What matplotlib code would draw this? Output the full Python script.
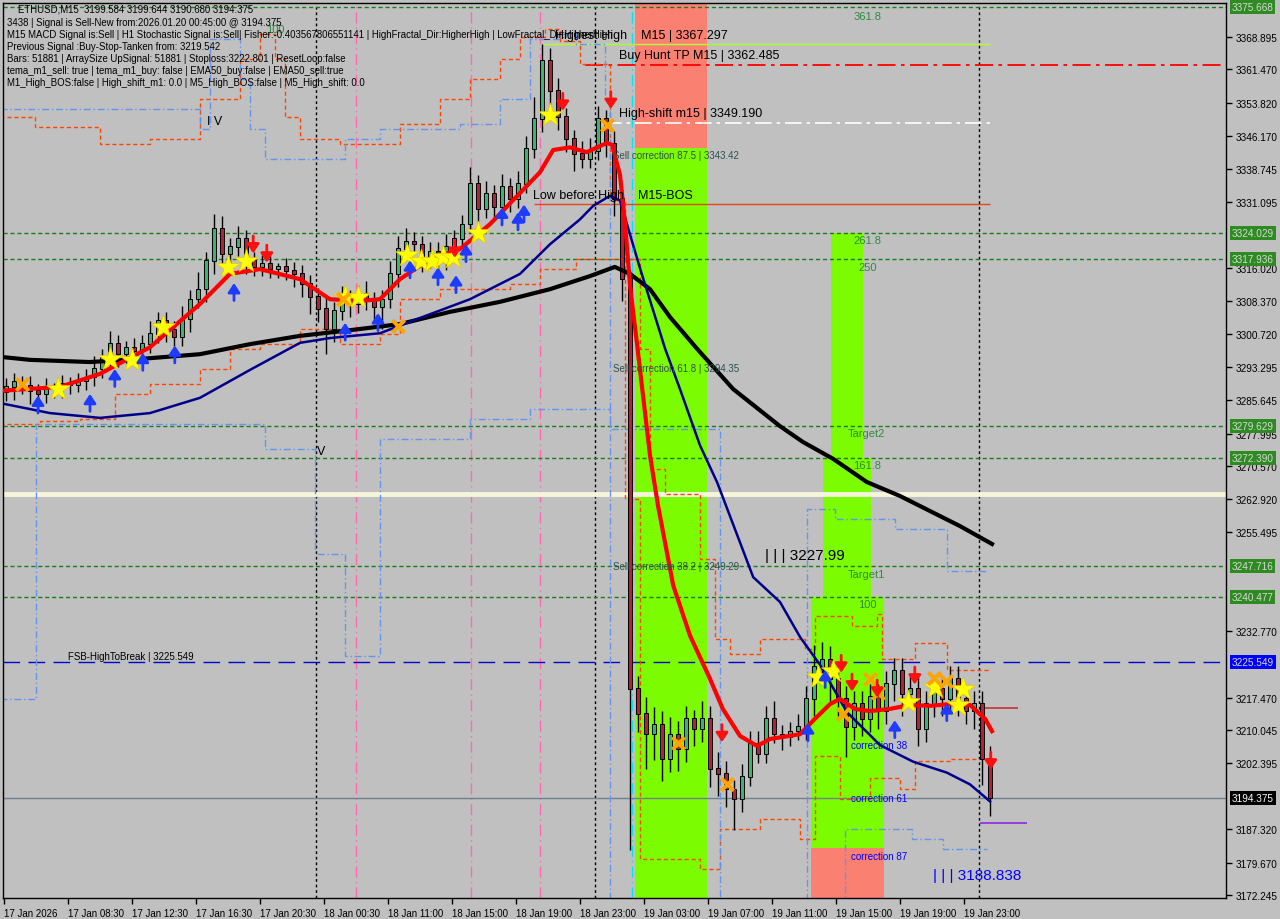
import numpy as np
import matplotlib.pyplot as plt
import matplotlib.transforms as mtransforms

plt.rcParams['font.family'] = ['Liberation Sans', 'DejaVu Sans']

# ---- candles (one value per drawn bar) ----
first_open = 3287.5
close = [3288.7, 3289.8, 3289.1, 3287.8, 3287.1, 3288.7, 3288.2, 3289.4, 3289.1, 3290.0,
         3290.9, 3292.8, 3295.5, 3298.5, 3296.2, 3297.8, 3296.9, 3298.5, 3300.8, 3303.8,
         3301.9, 3300.1, 3304.3, 3308.8, 3311.1, 3317.6, 3324.9, 3319.2, 3320.8, 3322.6,
         3317.6, 3316.2, 3316.9, 3315.7, 3316.2, 3315.3, 3314.6, 3312.3, 3309.3, 3306.6,
         3301.9, 3306.1, 3308.8, 3307.7, 3310.0, 3308.4, 3307.0, 3308.8, 3314.6, 3320.3,
         3322.1, 3321.4, 3318.0, 3319.8, 3317.6, 3320.8, 3322.6, 3326.0, 3335.2, 3329.5,
         3332.9, 3330.0, 3334.5, 3331.8, 3335.2, 3343.2, 3350.1, 3363.4, 3356.5, 3350.6,
         3345.5, 3342.1, 3340.9, 3342.8, 3350.1, 3344.4, 3331.8, 3313.4, 3219.5, 3213.7,
         3209.1, 3211.4, 3203.4, 3209.1, 3205.7, 3212.6, 3210.3, 3212.6, 3201.1, 3200.0,
         3196.5, 3194.2, 3199.3, 3206.9, 3204.6, 3212.6, 3209.1, 3208.5, 3209.8, 3210.8,
         3217.2, 3224.5, 3226.3, 3221.8, 3217.2, 3210.8, 3216.0, 3212.6, 3217.6, 3214.4,
         3220.6, 3223.6, 3218.3, 3219.5, 3210.3, 3216.0, 3219.5, 3217.2, 3221.8, 3217.2,
         3214.4, 3216.0, 3203.4, 3194.375]
wick_up = [2, 2, 1.5, 2, 1.5, 2, 1, 2, 1.5, 2, 2, 3, 2, 3, 2, 1.5, 2, 2, 3, 2,
           2, 2, 3, 2, 4, 2, 3.5, 3, 2, 3, 2, 2, 2, 2, 1, 2, 2, 2, 2, 2,
           3, 2, 3, 2, 2, 3, 2, 2, 3, 3, 3, 2, 2, 2, 2, 3, 2, 2, 4, 2,
           3, 2, 3, 2, 3, 3, 5, 4, 3, 3, 2, 2, 3, 3, 3, 2, 3, 2, 2, 3,
           4, 4, 3, 4, 3, 3, 2, 4, 3, 4, 3, 2, 3, 3, 3, 3, 4, 2, 2, 3,
           3, 5, 4, 3, 3, 3, 3, 3, 3, 3, 3, 3, 3, 3, 3, 3, 3, 3, 3, 3,
           2, 3, 3, 3]
wick_dn = [2, 3, 2, 3, 4, 2, 2, 2, 2, 1.5, 2, 2, 2, 2, 3, 2, 2, 2, 2, 2,
           3, 2, 2, 3, 2, 3, 3, 2, 3, 2, 3, 2, 2, 2, 2, 2, 3, 3, 4, 3,
           5.7, 3, 2, 3, 2, 2, 3, 5, 2, 3, 2, 2, 3, 2, 3, 2, 2, 2, 2, 3,
           2, 3, 2, 3, 2, 2, 2, 3, 3, 3, 3, 4, 2, 2, 2, 3, 4, 5, 37, 4,
           8, 6, 5, 3, 5, 3, 4, 3, 4, 5, 4, 7, 3, 2, 2, 2, 2, 3, 2, 2,
           3, 4, 3, 5, 4, 7, 3, 4, 3, 4, 3, 4, 5, 3, 4, 3, 3, 4, 3, 4,
           3, 4, 6, 4]

# ---- moving averages (vertices: bar, price) ----
red_x = [-0.75, 6.75, 11.75, 18, 24.25, 28, 31.75, 36.75, 40.5, 44.25, 46.75, 49.25, 53,
         56.75, 60.5, 66.75, 68.4, 70.5, 72.6, 75.1, 75.75, 76.75, 77.4, 78, 78.9, 80.5,
         81.5, 83.4, 85.5, 88, 89.6, 91.75, 93.9, 95.5, 99.25, 101.1, 103, 104.25, 106.1,
         108, 110.5, 113, 115.5, 118, 120.5, 122.4, 123.25]
red_p = [3287.8, 3288.7, 3291.7, 3297.8, 3307.7, 3314.6, 3315.7, 3313.4, 3308.8, 3308.4,
         3308.8, 3313.4, 3318.0, 3320.3, 3326.0, 3337.9, 3343.0, 3343.6, 3342.5, 3344.6,
         3344.2, 3337.3, 3325.8, 3312.0, 3298.2, 3273.0, 3261.5, 3243.2, 3231.7, 3221.8,
         3214.9, 3208.7, 3206.4, 3208.0, 3209.1, 3212.6, 3216.0, 3217.2, 3214.9, 3214.4,
         3214.9, 3215.8, 3215.6, 3216.0, 3215.8, 3212.6, 3209.8]
navy_x = [-0.75, 5.5, 11.75, 18, 24.25, 30.5, 36.75, 40.5, 46.75, 51.75, 58, 64.25, 68,
          71.75, 73.4, 75.5, 76.75, 79.25, 82.4, 84.25, 86.75, 88.9, 93.4, 96.75, 99.25,
          101.75, 105.1, 109.25, 113.4, 117.6, 120.5, 123]
navy_p = [3285.0, 3282.7, 3281.6, 3282.7, 3286.2, 3292.6, 3298.8, 3299.9, 3301.0, 3304.5,
          3308.8, 3314.6, 3321.4, 3327.1, 3330.2, 3332.5, 3331.4, 3315.9, 3297.4, 3288.2,
          3275.3, 3266.8, 3245.1, 3239.4, 3231.4, 3225.0, 3214.2, 3206.6, 3202.8, 3200.3,
          3197.6, 3193.7]
black_x = [-0.75, 3, 10.5, 16.75, 24.25, 30.5, 36.75, 43, 49.25, 55.5, 61.75, 68, 73,
           76.1, 78, 80.5, 83, 86.4, 90.9, 96.75, 99.6, 103.4, 107.6, 111.75, 119.25, 123.25]
black_p = [3295.6, 3294.9, 3294.4, 3295.1, 3296.2, 3298.5, 3300.4, 3301.7, 3303.1, 3305.9,
           3308.2, 3311.1, 3314.1, 3316.2, 3314.6, 3311.1, 3304.7, 3297.4, 3288.2, 3279.7,
           3276.1, 3272.2, 3266.9, 3263.7, 3256.8, 3252.7]

# ---- step channels (bar, price) ----
orange_up_x = [-0.75, 3.6, 11.75, 18, 24.25, 29.25, 31.75, 33.6, 34.9, 36.75, 41.75, 49.25,
               54.25, 58, 61.75, 64.25, 67.4, 69.25, 71.75, 75.5, 77.4, 79.25, 80.5, 82.4,
               86.75, 88.6, 90.5, 94.25, 99.9, 101.1, 105.75, 108.9, 109.5, 113.6, 117.6, 123]
orange_up_p = [3350.6, 3348.3, 3344.4, 3345.5, 3354.7, 3363.9, 3369.6, 3363.9, 3350.6, 3345.5,
               3344.4, 3348.9, 3354.7, 3359.3, 3363.9, 3368.9, 3370.7, 3367.9, 3362.7, 3331.6,
               3318.0, 3297.4, 3269.9, 3264.2, 3249.3, 3230.9, 3227.5, 3230.9, 3228.6, 3236.3,
               3233.9, 3236.7, 3226.3, 3230.0, 3223.8, 3224.0]
orange_dn_x = [-0.75, 4.25, 9.25, 13.6, 18, 24.25, 28, 31.75, 36.75, 41.75, 46.75, 49.25,
               54.25, 63, 66.75, 71.25, 75.5, 77.4, 79.25, 86.75, 89.25, 94.25, 99.25, 101.1,
               104.25, 108, 111.75, 113.6, 118, 123]
orange_dn_p = [3280.2, 3280.9, 3281.3, 3287.1, 3289.4, 3292.8, 3297.4, 3298.5, 3301.9, 3298.5,
               3300.8, 3308.8, 3311.1, 3312.3, 3315.7, 3318.0, 3318.0, 3263.0, 3180.5, 3178.2,
               3187.4, 3189.7, 3185.1, 3204.0, 3194.2, 3199.0, 3196.5, 3203.0, 3203.4, 3201.0]
blue_up_x = [-0.75, 24.25, 25.5, 29.25, 30.5, 32.4, 42.4, 46.75, 56.75, 61.75, 65.5, 69.25,
             71.25, 74.9, 75.5, 89.25, 100.1, 103.6, 111.1, 117.6, 122.6]
blue_up_p = [3352.4, 3347.8, 3368.4, 3359.3, 3347.8, 3340.9, 3345.5, 3347.8, 3348.9, 3354.7,
             3368.4, 3369.6, 3367.3, 3354.7, 3279.1, 3171.0, 3260.7, 3258.4, 3256.1, 3246.5,
             3246.5]
blue_dn_x = [-0.75, 3.75, 32.4, 38.6, 42.4, 46.75, 58, 65.5, 75.5, 100.1, 104.9, 113.25,
             117.1, 122.6]
blue_dn_p = [3217.2, 3280.2, 3274.5, 3250.4, 3227.0, 3276.8, 3281.3, 3283.6, 3171.0, 3171.0,
             3187.4, 3185.1, 3182.8, 3182.8]

# ---- signal markers (bar, price) ----
star_x = [6.5, 13, 15.75, 19.6, 27.75, 30, 42.4, 44, 50.1, 51.9, 53.25, 54.6, 55.9, 59, 68,
          101.5, 103.4, 112.75, 116.1, 119, 119.6]
star_p = [3288.2, 3295.1, 3294.9, 3302.4, 3316.2, 3317.6, 3309.3, 3309.3, 3318.9, 3317.6,
          3317.6, 3318.5, 3318.5, 3324.0, 3351.0, 3222.2, 3223.6, 3216.5, 3219.9, 3215.8,
          3219.5]
up_x = [4, 10.5, 13.6, 17.1, 21.1, 28.5, 42.4, 46.5, 50.5, 54, 56.25, 57.5, 62, 64, 64.75,
        100.25, 102.4, 111.1, 117.6]
up_p = [3284.7, 3285.1, 3290.8, 3294.5, 3296.2, 3310.5, 3301.4, 3303.6, 3315.7, 3314.1,
        3312.3, 3319.4, 3327.8, 3326.7, 3328.5, 3209.6, 3221.8, 3210.3, 3214.2]
down_x = [30.9, 32.6, 56.1, 69.6, 75.6, 89.5, 104.4, 105.75, 108.9, 113.6, 123.1]
down_p = [3321.3, 3319.2, 3320.3, 3354.0, 3354.4, 3209.3, 3225.2, 3220.9, 3219.5, 3222.5,
          3203.0]
cross_x = [2, 42.1, 49, 75.1, 84, 90.1, 104.6, 108, 109, 116, 117.5]
cross_p = [3289.4, 3308.8, 3302.6, 3348.7, 3207.0, 3197.7, 3213.8, 3221.8, 3218.5, 3222.0,
           3221.2]

# ---- levels ----
green_levels = [3375.668, 3324.029, 3317.936, 3279.629, 3272.390, 3247.716, 3240.477]
highest_high = 3367.297
buy_hunt_tp = 3362.485
high_shift = 3349.190
low_before_high = 3330.6
beige_level = 3264.15
fsb_level = 3225.549
bid = 3194.375
short_red = 3215.1
short_purple = 3188.838
sell_corr = [3343.42, 3294.35, 3249.29]
sell_corr_names = ['87.5', '61.8', '38.2']

# zones
zone1_x = (78.6, 87.6)
zone2_steps = [(103.1, 107.1, 3272.390, 3324.029),
               (102.1, 108.1, 3240.477, 3272.390),
               (100.6, 109.75, 3183.0, 3240.477)]

y_ticks = [3368.895, 3361.470, 3353.820, 3346.170, 3338.745, 3331.095, 3316.020, 3308.370,
           3300.720, 3293.295, 3285.645, 3277.995, 3270.570, 3262.920, 3255.495, 3232.770,
           3217.470, 3210.045, 3202.395, 3187.320, 3179.670, 3172.245]
x_tick_pos = [8 * k - 0.25 for k in range(16)]
x_tick_labels = ['17 Jan 2026', '17 Jan 08:30', '17 Jan 12:30', '17 Jan 16:30', '17 Jan 20:30',
                 '18 Jan 00:30', '18 Jan 11:00', '18 Jan 15:00', '18 Jan 19:00', '18 Jan 23:00',
                 '19 Jan 03:00', '19 Jan 07:00', '19 Jan 11:00', '19 Jan 15:00', '19 Jan 19:00',
                 '19 Jan 23:00']

BG = '#C0C0C0'
LGREEN = '#7CFC00'
SALMON = '#FA8072'
DGREEN = '#1E7A1E'
TXTGREEN = '#2E8B3C'

fig = plt.figure(figsize=(12.8, 9.2), dpi=100, facecolor=BG)
ax = fig.add_axes([3 / 1280, 21 / 920, 1223 / 1280, 895 / 920], facecolor=BG)
x_lo, x_hi = -0.375, 152.5
y_lo, y_hi = 3171.56, 3376.69
ax.set_xlim(x_lo, x_hi)
ax.set_ylim(y_lo, y_hi)

# zones
ax.fill_between(zone1_x, sell_corr[0], y_hi + 5, color=SALMON, lw=0, zorder=0.5)
ax.fill_between(zone1_x, y_lo - 5, sell_corr[0], color=LGREEN, lw=0, zorder=0.5)
for x0, x1, p0, p1 in zone2_steps:
    ax.fill_between((x0, x1), p0, p1, color=LGREEN, lw=0, zorder=0.5)
ax.fill_between(zone2_steps[2][:2], y_lo - 5, zone2_steps[2][2], color=SALMON, lw=0, zorder=0.5)

# vertical separators
for xv in [38.75, 73.6, 121.6]:
    ax.axvline(xv, color='black', lw=1, ls=(0, (2, 2)), zorder=1)
for xv in [43.75, 58.1, 66.75]:
    ax.axvline(xv, color='#FF69B4', lw=1, ls=(0, (8, 3, 1, 3)), zorder=1)
ax.axvline(78.25, color='#00E5EE', lw=1, ls=(0, (8, 3, 1, 3)), zorder=1)

# horizontal levels
for lv in green_levels:
    ax.axhline(lv, color=DGREEN, lw=1, ls=(0, (3, 2)), zorder=1)
ax.axhline(beige_level, color='#F5F5DC', lw=3.5, zorder=1)
ax.axhline(fsb_level, color='#0000CD', lw=1, ls=(0, (12, 6)), zorder=1)
ax.axhline(bid, color='#708090', lw=1, zorder=1)
ax.hlines(highest_high, 67, 123, color='#ADFF2F', lw=1, zorder=1)
ax.hlines(buy_hunt_tp, 72.4, x_hi, color='red', lw=1.3, ls=(0, (10, 3, 2, 3)), zorder=1)
ax.hlines(high_shift, 74.9, 123, color='white', lw=1.2, ls=(0, (10, 3, 2, 3)), zorder=1)
ax.hlines(low_before_high, 66, 123, color='#E04A1A', lw=1, zorder=1)
ax.hlines(short_red, 121.75, 126.5, color='#C83232', lw=1.2, zorder=1)
ax.hlines(short_purple, 121.75, 127.6, color='#8A2BE2', lw=1.2, zorder=1)

# step channels
ax.plot(orange_up_x, orange_up_p, drawstyle='steps-post', color='#FF4500', lw=1, ls=(0, (3, 2)), zorder=2)
ax.plot(orange_dn_x, orange_dn_p, drawstyle='steps-post', color='#FF4500', lw=1, ls=(0, (3, 2)), zorder=2)
ax.plot(blue_up_x, blue_up_p, drawstyle='steps-post', color='#6495ED', lw=1, ls=(0, (5, 2, 1, 2)), zorder=2)
ax.plot(blue_dn_x, blue_dn_p, drawstyle='steps-post', color='#6495ED', lw=1, ls=(0, (5, 2, 1, 2)), zorder=2)

# candles
n = len(close)
xs = np.arange(n)
opens = np.array([first_open] + close[:-1])
closes = np.array(close)
highs = np.maximum(opens, closes) + np.array(wick_up)
lows = np.minimum(opens, closes) - np.array(wick_dn)
ax.vlines(xs, lows, highs, color='black', lw=1, zorder=3)
bull = closes >= opens
body_col = np.where(bull, '#3CB371', '#B22234')
ax.bar(xs, np.abs(closes - opens) + 0.15, bottom=np.minimum(opens, closes), width=0.5,
       color=body_col, edgecolor='black', linewidth=0.7, zorder=4)

# moving averages
ax.plot(black_x, black_p, color='black', lw=3, zorder=5)
ax.plot(navy_x, navy_p, color='#00008B', lw=1.8, zorder=5)
ax.plot(red_x, red_p, color='#FF0000', lw=3, zorder=5)

# signal markers
ax.scatter(star_x, star_p, marker='*', s=320, color='#FFFF00', edgecolors='#E6C800', linewidths=0.5, zorder=7)
ax.scatter(cross_x, cross_p, marker='x', s=80, color='#FFA500', linewidths=2.8, zorder=7)
arrow_style = '-|>,head_length=0.45,head_width=0.3'
for x, p in zip(up_x, up_p):
    ax.annotate('', xy=(x, p + 2.0), xytext=(x, p - 2.0),
                arrowprops=dict(arrowstyle=arrow_style, color='#1E3CFF', lw=2.0, mutation_scale=12,
                                shrinkA=0, shrinkB=0), zorder=8)
for x, p in zip(down_x, down_p):
    ax.annotate('', xy=(x, p - 2.0), xytext=(x, p + 2.0),
                arrowprops=dict(arrowstyle=arrow_style, color='#FF1010', lw=2.0, mutation_scale=12,
                                shrinkA=0, shrinkB=0), zorder=8)

# chart labels
ax.text(68.6, 3369.35, 'Highest High    M15 | 3367.297', fontsize=9, va='center', zorder=9)
ax.text(76.6, 3364.8, 'Buy Hunt TP M15 | 3362.485', fontsize=9, va='center', zorder=9)
ax.text(76.6, 3351.5, 'High-shift m15 | 3349.190', fontsize=9, va='center', zorder=9)
ax.text(65.9, 3332.7, 'Low before High    M15-BOS', fontsize=9, va='center', zorder=9)
for lv, nm, lab_p in zip(sell_corr, sell_corr_names, [3341.9, 3293.0, 3247.65]):
    ax.text(75.9, lab_p, 'Sell correction %s | %.2f' % (nm, lv),
            fontsize=7, color='#2F4F4F', va='center', zorder=9)
for lab, x, p in [('361.8', 105.9, 3373.7), ('261.8', 105.9, 3322.4), ('250', 106.5, 3316.2),
                  ('Target2', 105.25, 3278.1), ('161.8', 105.9, 3270.8), ('Target1', 105.25, 3245.8),
                  ('100', 106.5, 3238.9)]:
    ax.text(x, p, lab, fontsize=8, color=TXTGREEN, va='center', zorder=9)
ax.text(32.5, 3370.7, '100', fontsize=8, color=TXTGREEN, va='center', zorder=9)
ax.text(94.9, 3250.2, '| | | 3227.99', fontsize=11, va='center', zorder=9)
ax.text(115.9, 3176.8, '| | | 3188.838', fontsize=11, color='#0000FF', va='center', zorder=9)
for lab, p in [('correction 38', 3206.6), ('correction 61', 3194.5), ('correction 87', 3181.2)]:
    ax.text(105.6, p, lab, fontsize=7, color='#0000FF', va='center', zorder=9)
ax.text(7.75, 3227.0, 'FSB-HighToBreak | 3225.549', fontsize=7, va='center', zorder=9)
ax.text(25.1, 3349.6, 'I V', fontsize=9, va='center', zorder=9)
ax.text(38.9, 3274.0, 'V', fontsize=9, va='center', zorder=9)

# axes styling
ax.yaxis.tick_right()
ax.set_yticks(y_ticks)
ax.set_yticklabels(['%.3f' % v for v in y_ticks], fontsize=7.2)
ax.set_xticks(x_tick_pos)
ax.set_xticklabels(x_tick_labels, fontsize=7, ha='left')
ax.tick_params(axis='both', direction='out', length=4, width=1, colors='black', pad=3)
ax.tick_params(axis='y', pad=3)
for sp in ax.spines.values():
    sp.set_color('black')
    sp.set_linewidth(1)

# price boxes on the axis
trans = mtransforms.blended_transform_factory(ax.transAxes, ax.transData)
for lv in green_levels:
    ax.text(1.0045, lv, '%.3f' % lv, transform=trans, fontsize=7.2, color='#D8D8D8', va='center',
            ha='left', bbox=dict(boxstyle='square,pad=0.2', fc='#2E8B22', ec='none'), clip_on=False, zorder=10)
ax.text(1.0045, fsb_level, '%.3f' % fsb_level, transform=trans, fontsize=7.2, color='#D8D8D8', va='center',
        ha='left', bbox=dict(boxstyle='square,pad=0.2', fc='#0000FF', ec='none'), clip_on=False, zorder=10)
ax.text(1.0045, bid, '%.3f' % bid, transform=trans, fontsize=7.2, color='white', va='center',
        ha='left', bbox=dict(boxstyle='square,pad=0.2', fc='black', ec='none'), clip_on=False, zorder=10)

# info panel
info = ['ETHUSD,M15  3199.584 3199.644 3190.680 3194.375',
        '3438 | Signal is Sell-New from:2026.01.20 00:45:00 @ 3194.375',
        'M15 MACD Signal is:Sell | H1 Stochastic Signal is:Sell| Fisher:-0.403567806551141 | '
        'HighFractal_Dir:HigherHigh | LowFractal_Dir:HigherHigh',
        'Previous Signal :Buy-Stop-Tanken from: 3219.542',
        'Bars: 51881 | ArraySize UpSignal: 51881 | Stoploss:3222.801 | ResetLoop:false',
        'tema_m1_sell: true | tema_m1_buy: false | EMA50_buy:false | EMA50_sell:true',
        'M1_High_BOS:false | High_shift_m1: 0.0 | M5_High_BOS:false | M5_High_shift: 0.0']
info_x = [18, 7, 7, 7, 7, 7, 7]
info_y = [9, 23, 35, 47, 59, 71, 83]
for t, x, y in zip(info, info_x, info_y):
    fig.text(x / 1280, 1 - y / 920, t, fontsize=6.95, va='center', ha='left', zorder=11)

fig.savefig('out.png', dpi=100, facecolor=BG)
